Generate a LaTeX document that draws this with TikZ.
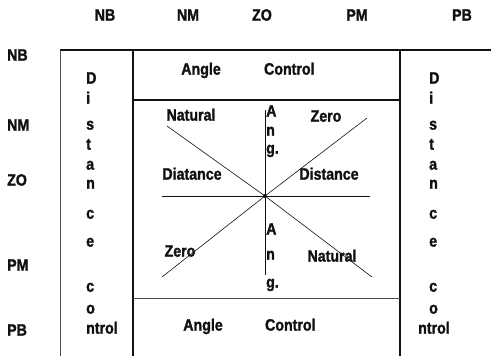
\documentclass[tikz,border=0pt]{standalone}
\usepackage{fontspec}
\setmainfont{Liberation Sans}
\newfontfamily\scanfont{Liberation Sans}[FakeStretch=0.86,FakeBold=1.5]
\usepackage{xcolor}
\usepackage{tikz}
\usetikzlibrary{positioning}
\definecolor{ink}{HTML}{111111}
\tikzset{
  lbl/.style={font=\scanfont\bfseries\fontsize{16.5}{18}\selectfont,inner sep=0pt,text=ink,anchor=mid},
  rule/.style={draw=ink,line width=1.5pt},
  hair/.style={draw=ink!75,line width=0.8pt},
  diag/.style={draw=ink,line width=0.6pt},
}

\begin{document}
\begin{tikzpicture}[x=1pt,y=-1pt]
  \useasboundingbox (0,0) rectangle (491,356);
  % table frame
  \draw[rule] (60,50) -- (491,50);
  \draw[hair] (60,50) -- (60,356);
  \draw[rule] (133,50) -- (133,356);
  \draw[rule] (400,50) -- (400,356);
  \draw[rule] (133,100) -- (400,100);
  \draw[hair] (133,298) -- (400,298);
  % row and column names
  \foreach \lab/\xx in {NB/105,NM/188,ZO/262,PM/357,PB/462}
    \node[lbl] (col\lab) at (\xx,18) {\lab};
  \foreach \lab/\yy in {NB/58,NM/128,ZO/183,PM/268,PB/333}
    \node[lbl,anchor=mid west] (row\lab) at (7,\yy) {\lab};
  % distance control, written downwards
  \foreach \ch/\yy [count=\i] in {D/81,i/101,s/127,t/147,a/167,n/186,c/216,e/244,c/289,o/311} {
    \node[lbl,anchor=mid west] (dl\i) at (86,\yy) {\ch};
    \node[lbl,anchor=mid west] (dr\i) at (429,\yy) {\ch};
  }
  \node[lbl,anchor=mid west] (dlend) at (86,331) {ntrol};
  \node[lbl,anchor=mid west] (drend) at (418,331) {ntrol};
  % angle control
  \node[lbl] (angtop) at (201,72) {Angle};
  \node[lbl,right=43pt of angtop.mid east,anchor=mid west] (ctltop) {Control};
  \node[lbl] (angbot) at (203,328) {Angle};
  \node[lbl,right=42pt of angbot.mid east,anchor=mid west] (ctlbot) {Control};
  % cross in the middle
  \coordinate (ctr) at (265,196);
  \coordinate (nw) at (167,126);
  \coordinate (se) at (372,277);
  \coordinate (ne) at (367,118);
  \coordinate (sw) at (162,277);
  \coordinate (w) at (162,196);
  \coordinate (e) at (370,196);
  \coordinate (n) at (265,110);
  \coordinate (s) at (265,275);
  \draw[diag] (nw) -- (ctr) -- (se);
  \draw[diag] (ne) -- (ctr) -- (sw);
  \draw[hair,draw=ink] (w) -- (e);
  \draw[hair,draw=ink] (n) -- (s);
  \fill[ink] (ctr) circle (2);
  \node[lbl] (natnw) at (191,118) {Natural};
  \node[lbl] (zerone) at (326,119) {Zero};
  \node[lbl] (distw) at (192,177) {Diatance};
  \node[lbl] (diste) at (329,177) {Distance};
  \node[lbl] (zerosw) at (180,254) {Zero};
  \node[lbl] (natse) at (332,259) {Natural};
  \foreach \ch/\yy [count=\i] in {A/114,n/133,g./151} {
    \node[lbl,anchor=mid west] (an\i) at (266,\yy) {\ch};
  }
  \foreach \ch/\yy [count=\i] in {A/232,n/257,g./285} {
    \node[lbl,anchor=mid west] (as\i) at (266,\yy) {\ch};
  }
\end{tikzpicture}
\end{document}
